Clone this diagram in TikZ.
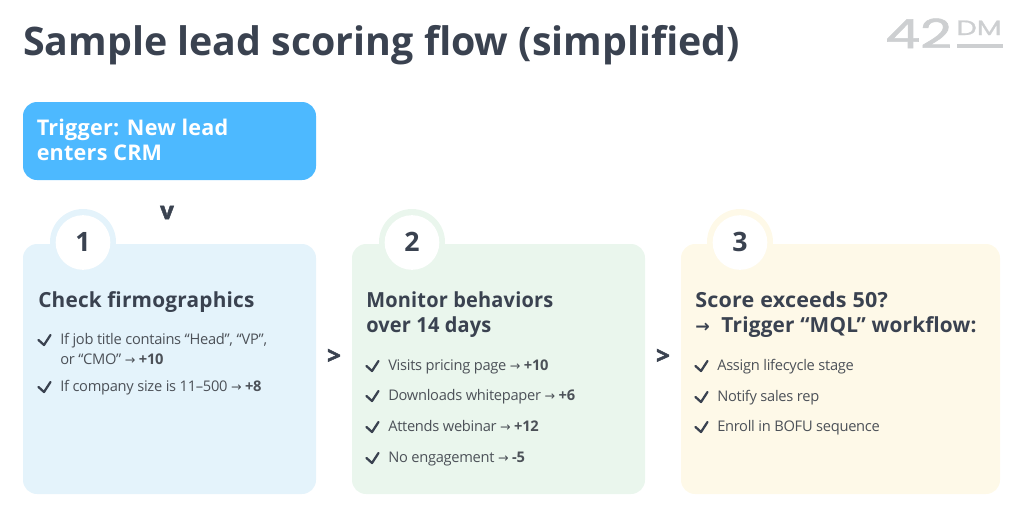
\documentclass[tikz,border=0pt]{standalone}
\usepackage{fontspec}
\setmainfont{Open Sans}
\newfontfamily\titlef{Open Sans}
\newfontfamily\headf[LetterSpace=1]{Open Sans}
\newfontfamily\bodyf[LetterSpace=-2]{Open Sans}
\newfontfamily\logof[FakeBold=1.5]{Poppins}
\newfontfamily\logosf[FakeBold=1]{Poppins}
\newfontfamily\arrowf{DejaVu Sans}
\newfontfamily\chevf[FakeBold=2]{Open Sans}
\newcommand{\itemarrow}{{\arrowf\fontsize{9.5}{13}\selectfont →}}
\definecolor{ink}{HTML}{3A4250}
\definecolor{bodyink}{HTML}{4C5158}
\definecolor{trig}{HTML}{4DB9FF}
\definecolor{cardA}{HTML}{E4F3FB}
\definecolor{cardB}{HTML}{EAF6ED}
\definecolor{cardC}{HTML}{FEF9E8}
\definecolor{logoc}{HTML}{CDCFD1}
\tikzset{
  x=0.75pt,y=-0.75pt,
  titletext/.style={anchor=base west,inner sep=0pt,text=ink,font=\titlef\bfseries\fontsize{29.5}{36}\selectfont},
  headtext/.style={anchor=base west,inner sep=0pt,text=ink,font=\headf\bfseries\fontsize{15.6}{19}\selectfont},
  trigtext/.style={anchor=base west,inner sep=0pt,text=white,font=\headf\bfseries\fontsize{16.2}{19}\selectfont},
  itemtext/.style={anchor=base west,inner sep=0pt,text=bodyink,font=\bodyf\fontsize{11}{13}\selectfont},
  ringdisc/.style={circle,minimum size=49.5pt,inner sep=0pt},
  numdisc/.style={circle,fill=white,minimum size=41pt,inner sep=0pt,text=ink,font=\bfseries\fontsize{20}{24}\selectfont},
  chev/.style={inner sep=0pt,text=ink,font=\chevf\bfseries\fontsize{18}{20}\selectfont},
  tick/.pic={\draw[ink,line width=1.7pt,line join=round,line cap=round] (0,-4) -- (5.5,1) -- (12,-9);},
}
\begin{document}
\begin{tikzpicture}
\useasboundingbox (0,0) rectangle (1024,515);
\node[titletext] (title) at (23,55) {Sample lead scoring flow (simplified)};
% logo
\node[anchor=base west,inner sep=0pt,text=logoc,font=\logof\fontsize{30}{34}\selectfont,xscale=1.38] (logoA) at (885,48) {42};
\node[anchor=base west,inner sep=0pt,text=logoc,font=\logosf\fontsize{15.5}{18}\selectfont,xscale=1.4] (logoB) at (956,35) {DM};
\fill[logoc] (957,44) rectangle (1003,47.5);
% trigger
\fill[trig,rounded corners=10.5pt] (23,102) rectangle (316,180);
\node[trigtext] (trigA) at (36.5,135) {Trigger: New lead};
\node[trigtext] (trigB) at (36.5,160) {enters CRM};
\node[chev] (chevA) at (167,212.5) {v};
\node[chev] (chevB) at (334,356.5) {>};
\node[chev] (chevC) at (663,356.5) {>};
% cards
\foreach \nm/\cx/\cw/\col/\ccx/\numtxt in {A/23/293/cardA/83/1,B/352/293/cardB/412/2,C/681/319/cardC/740/3}{
  \node[ringdisc,fill=\col] (ring\nm) at (\ccx,242) {};
  \fill[\col,rounded corners=10.5pt] (\cx,244) rectangle ++(\cw,250);
  \node[numdisc] (num\nm) at (\ccx,242.5) {\raisebox{1.5pt}{\numtxt}};
}
% card 1
\node[headtext] (hA) at (38,307) {Check firmographics};
\pic at (38.5,344) {tick};
\node[itemtext] (a1) at (60,344) {If job title contains “Head”, “VP”,};
\node[itemtext] (a1b) at (60,364) {or “CMO” \itemarrow{} {\bfseries +10}};
\pic at (38.5,391) {tick};
\node[itemtext] (a2) at (60,391) {If company size is 11–500 \itemarrow{} {\bfseries +8}};
% card 2
\node[headtext,xscale=0.96] (hB) at (366,307) {Monitor behaviors};
\node[headtext,xscale=0.96] (hBb) at (366,332) {over 14 days};
\pic at (366.5,370) {tick};
\node[itemtext] (b1) at (388,370) {Visits pricing page \itemarrow{} {\bfseries +10}};
\pic at (366.5,400) {tick};
\node[itemtext] (b2) at (388,400) {Downloads whitepaper \itemarrow{} {\bfseries +6}};
\pic at (366.5,431) {tick};
\node[itemtext] (b3) at (388,431) {Attends webinar \itemarrow{} {\bfseries +12}};
\pic at (366.5,462) {tick};
\node[itemtext] (b4) at (388,462) {No engagement \itemarrow{} {\bfseries -5}};
% card 3
\node[headtext,xscale=1.035] (hC) at (695,307) {Score exceeds 50?};
\node[headtext] (hCb) at (695,332) {{\arrowf\bfseries\fontsize{13}{19}\selectfont →}\hspace{4.5pt} Trigger “MQL” workflow:};
\pic at (695.5,370) {tick};
\node[itemtext] (c1) at (717,370) {Assign lifecycle stage};
\pic at (695.5,401) {tick};
\node[itemtext] (c2) at (717,401) {Notify sales rep};
\pic at (695.5,431) {tick};
\node[itemtext] (c3) at (717,431) {Enroll in BOFU sequence};
\end{tikzpicture}
\end{document}
